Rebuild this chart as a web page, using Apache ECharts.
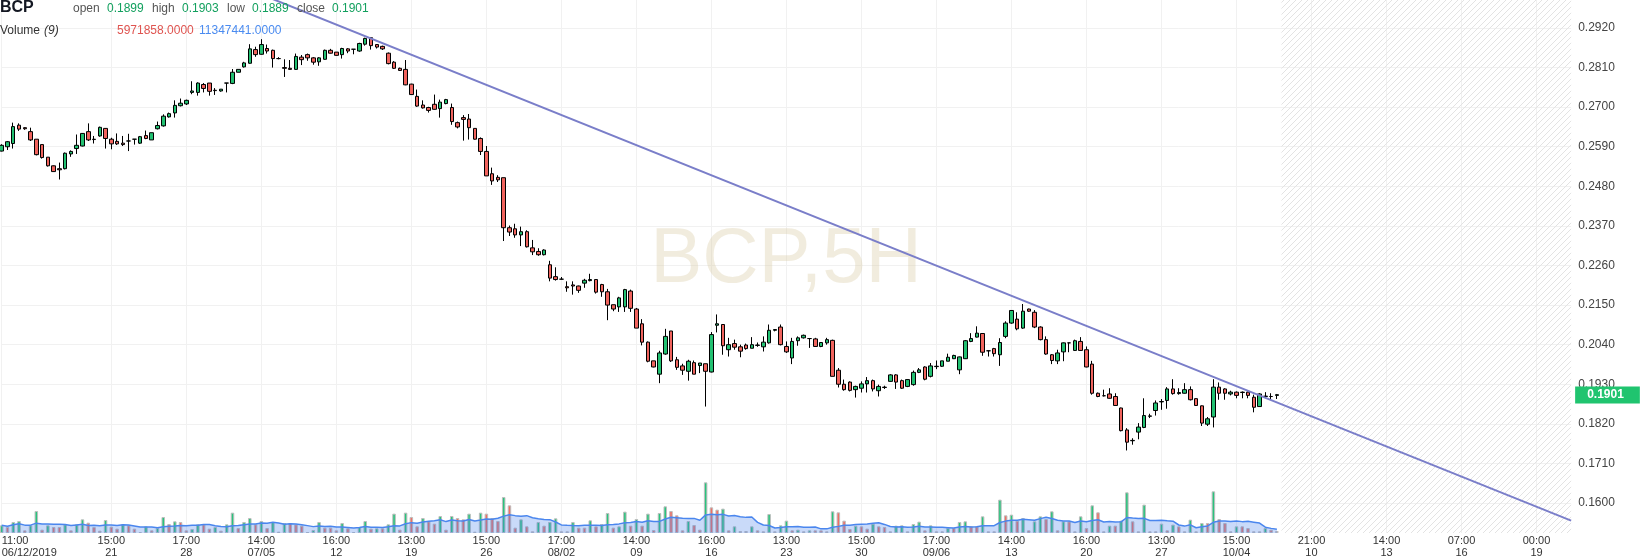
<!DOCTYPE html>
<html><head><meta charset="utf-8">
<script src="https://cdn.jsdelivr.net/npm/echarts@6/dist/echarts.min.js"></script>
<style>html,body{margin:0;padding:0;background:#fff}#c{width:1640px;height:560px}</style>
</head><body><div id="c"></div>
<script>
// ---- data (BCP, 5H bars) ----
const opens = [
0.2578,0.2590,0.2599,0.2650,0.2643,0.2632,0.2611,0.2596,0.2561,0.2537,
0.2529,0.2529,0.2570,0.2585,0.2592,0.2632,0.2611,0.2620,0.2641,0.2611,
0.2605,0.2600,0.2606,0.2611,0.2600,0.2621,0.2609,0.2640,0.2648,0.2673,
0.2684,0.2704,0.2709,0.2741,0.2741,0.2763,0.2767,0.2747,0.2745,0.2767,
0.2766,0.2797,0.2812,0.2822,0.2860,0.2847,0.2863,0.2858,0.2835,0.2810,
0.2808,0.2805,0.2839,0.2846,0.2837,0.2826,0.2833,0.2858,0.2853,0.2846,
0.2862,0.2861,0.2856,0.2875,0.2893,0.2874,0.2869,0.2850,0.2825,0.2808,
0.2805,0.2764,0.2730,0.2706,0.2699,0.2708,0.2696,0.2710,0.2699,0.2657,
0.2671,0.2667,0.2641,0.2613,0.2577,0.2515,0.2505,0.2504,0.2365,0.2362,
0.2345,0.2354,0.2309,0.2299,0.2290,0.2262,0.2229,0.2222,0.2201,0.2206,
0.2203,0.2211,0.2218,0.2221,0.2207,0.2187,0.2151,0.2145,0.2145,0.2189,
0.2139,0.2098,0.2047,0.1995,0.1958,0.2014,0.2078,0.1998,0.1981,0.1966,
0.1990,0.1982,0.1987,0.1964,0.2094,0.2096,0.2026,0.2043,0.2034,0.2039,
0.2030,0.2038,0.2034,0.2045,0.2080,0.2089,0.2035,0.2003,0.2051,0.2059,
0.2057,0.2056,0.2035,0.2045,0.2052,0.1969,0.1930,0.1936,0.1915,0.1919,
0.1931,0.1940,0.1912,0.1921,0.1938,0.1956,0.1940,0.1924,0.1929,0.1963,
0.1978,0.1952,0.1979,0.1980,0.1994,0.2001,0.1970,0.2001,0.2049,0.2061,
0.2071,0.2023,0.2029,0.2012,0.2063,0.2100,0.2111,0.2086,0.2139,0.2130,
0.2089,0.2054,0.2012,0.1995,0.2020,0.2045,0.2024,0.2049,0.2026,0.1986,
0.1905,0.1898,0.1903,0.1896,0.1864,0.1803,0.1773,0.1797,0.1810,0.1841,
0.1857,0.1881,0.1885,0.1917,0.1904,0.1905,0.1915,0.1890,0.1870,0.1819,
0.1839,0.1922,0.1917,0.1903,0.1908,0.1907,0.1908,0.1894,0.1868,0.1896,
0.1896,0.1899];
const highs = [
0.2597,0.2606,0.2657,0.2655,0.2644,0.2643,0.2611,0.2596,0.2561,0.2538,
0.2546,0.2574,0.2580,0.2624,0.2628,0.2655,0.2620,0.2646,0.2642,0.2615,
0.2627,0.2620,0.2626,0.2611,0.2620,0.2635,0.2629,0.2660,0.2680,0.2685,
0.2719,0.2724,0.2721,0.2772,0.2769,0.2767,0.2767,0.2753,0.2750,0.2767,
0.2806,0.2805,0.2826,0.2875,0.2868,0.2889,0.2874,0.2860,0.2839,0.2833,
0.2831,0.2849,0.2845,0.2849,0.2839,0.2839,0.2860,0.2862,0.2853,0.2865,
0.2864,0.2861,0.2879,0.2893,0.2895,0.2875,0.2871,0.2852,0.2828,0.2810,
0.2831,0.2765,0.2749,0.2719,0.2701,0.2735,0.2721,0.2723,0.2710,0.2660,
0.2678,0.2681,0.2641,0.2616,0.2592,0.2532,0.2511,0.2504,0.2371,0.2376,
0.2368,0.2358,0.2331,0.2308,0.2305,0.2273,0.2255,0.2228,0.2216,0.2216,
0.2204,0.2223,0.2237,0.2221,0.2209,0.2195,0.2151,0.2173,0.2195,0.2193,
0.2142,0.2111,0.2049,0.1995,0.2023,0.2084,0.2078,0.2006,0.1987,0.1998,
0.1996,0.1989,0.1987,0.2075,0.2124,0.2096,0.2059,0.2054,0.2040,0.2043,
0.2061,0.2046,0.2063,0.2096,0.2083,0.2096,0.2049,0.2059,0.2063,0.2068,
0.2057,0.2059,0.2046,0.2059,0.2054,0.1975,0.1943,0.1938,0.1926,0.1938,
0.1950,0.1943,0.1929,0.1926,0.1958,0.1958,0.1943,0.1944,0.1968,0.1975,
0.1980,0.1989,0.1996,0.1995,0.2015,0.2012,0.2007,0.2053,0.2072,0.2091,
0.2072,0.2023,0.2031,0.2058,0.2105,0.2136,0.2130,0.2153,0.2140,0.2136,
0.2091,0.2063,0.2014,0.2026,0.2046,0.2045,0.2054,0.2061,0.2035,0.1995,
0.1907,0.1915,0.1919,0.1905,0.1865,0.1808,0.1780,0.1822,0.1891,0.1848,
0.1885,0.1889,0.1922,0.1944,0.1919,0.1933,0.1924,0.1891,0.1871,0.1839,
0.1944,0.1935,0.1919,0.1912,0.1910,0.1910,0.1910,0.1901,0.1905,0.1908,
0.1905,0.1903];
const lows = [
0.2577,0.2581,0.2585,0.2634,0.2637,0.2606,0.2566,0.2557,0.2535,0.2520,
0.2499,0.2527,0.2562,0.2570,0.2591,0.2606,0.2599,0.2618,0.2585,0.2583,
0.2595,0.2592,0.2578,0.2596,0.2598,0.2611,0.2609,0.2638,0.2646,0.2671,
0.2671,0.2702,0.2706,0.2736,0.2732,0.2741,0.2732,0.2734,0.2743,0.2741,
0.2764,0.2797,0.2810,0.2821,0.2840,0.2846,0.2849,0.2810,0.2833,0.2784,
0.2804,0.2804,0.2817,0.2829,0.2818,0.2815,0.2832,0.2849,0.2843,0.2835,
0.2850,0.2847,0.2854,0.2871,0.2860,0.2863,0.2859,0.2819,0.2806,0.2801,
0.2761,0.2734,0.2701,0.2696,0.2685,0.2693,0.2671,0.2708,0.2651,0.2641,
0.2607,0.2610,0.2610,0.2567,0.2509,0.2484,0.2492,0.2328,0.2342,0.2337,
0.2314,0.2310,0.2289,0.2287,0.2288,0.2216,0.2218,0.2221,0.2187,0.2179,
0.2184,0.2198,0.2216,0.2182,0.2173,0.2108,0.2133,0.2131,0.2131,0.2131,
0.2086,0.2038,0.1991,0.1977,0.1933,0.2012,0.1992,0.1970,0.1956,0.1940,
0.1958,0.1961,0.1868,0.1963,0.2074,0.2012,0.2007,0.2026,0.2005,0.2026,
0.2030,0.2034,0.2021,0.2043,0.2077,0.2038,0.2017,0.1986,0.2037,0.2057,
0.2031,0.2034,0.2033,0.2040,0.1952,0.1921,0.1912,0.1910,0.1893,0.1907,
0.1907,0.1910,0.1896,0.1917,0.1937,0.1917,0.1917,0.1922,0.1926,0.1961,
0.1941,0.1949,0.1972,0.1978,0.1994,0.2000,0.1958,0.2000,0.2047,0.2060,
0.2009,0.2007,0.2007,0.1981,0.2058,0.2098,0.2080,0.2084,0.2131,0.2086,
0.2052,0.2012,0.1986,0.1986,0.1994,0.2019,0.2023,0.2023,0.1977,0.1901,
0.1894,0.1896,0.1890,0.1870,0.1799,0.1746,0.1762,0.1777,0.1808,0.1836,
0.1843,0.1859,0.1862,0.1901,0.1901,0.1904,0.1885,0.1870,0.1814,0.1814,
0.1810,0.1887,0.1887,0.1899,0.1891,0.1891,0.1891,0.1852,0.1868,0.1891,
0.1887,0.1889];
const closes = [
0.2594,0.2604,0.2646,0.2639,0.2640,0.2609,0.2568,0.2560,0.2537,0.2521,
0.2526,0.2572,0.2577,0.2594,0.2627,0.2609,0.2610,0.2644,0.2613,0.2598,
0.2598,0.2596,0.2606,0.2611,0.2618,0.2613,0.2629,0.2649,0.2675,0.2682,
0.2705,0.2711,0.2719,0.2745,0.2767,0.2752,0.2744,0.2746,0.2750,0.2767,
0.2797,0.2805,0.2823,0.2862,0.2846,0.2874,0.2856,0.2835,0.2835,0.2808,
0.2805,0.2841,0.2832,0.2837,0.2825,0.2837,0.2858,0.2850,0.2844,0.2863,
0.2856,0.2861,0.2877,0.2891,0.2871,0.2867,0.2862,0.2821,0.2808,0.2802,
0.2762,0.2735,0.2703,0.2698,0.2691,0.2694,0.2714,0.2721,0.2660,0.2645,
0.2666,0.2643,0.2611,0.2577,0.2509,0.2495,0.2498,0.2365,0.2353,0.2345,
0.2354,0.2312,0.2298,0.2290,0.2303,0.2225,0.2221,0.2222,0.2198,0.2203,
0.2191,0.2219,0.2221,0.2186,0.2187,0.2150,0.2139,0.2170,0.2193,0.2141,
0.2086,0.2047,0.1994,0.1978,0.2017,0.2063,0.1995,0.1977,0.1969,0.1994,
0.1958,0.1989,0.1966,0.2068,0.2098,0.2037,0.2040,0.2033,0.2022,0.2029,
0.2040,0.2039,0.2047,0.2080,0.2082,0.2040,0.2020,0.2049,0.2059,0.2066,
0.2057,0.2035,0.2046,0.2054,0.1952,0.1930,0.1915,0.1913,0.1924,0.1931,
0.1940,0.1917,0.1924,0.1922,0.1956,0.1936,0.1919,0.1943,0.1963,0.1970,
0.1944,0.1981,0.1980,0.1995,0.2005,0.2010,0.2006,0.2051,0.2057,0.2072,
0.2019,0.2023,0.2015,0.2046,0.2100,0.2135,0.2084,0.2133,0.2133,0.2089,
0.2054,0.2014,0.1996,0.2017,0.2045,0.2045,0.2051,0.2024,0.1978,0.1905,
0.1896,0.1898,0.1891,0.1871,0.1801,0.1769,0.1774,0.1811,0.1843,0.1842,
0.1878,0.1882,0.1917,0.1904,0.1907,0.1915,0.1887,0.1871,0.1822,0.1834,
0.1922,0.1905,0.1905,0.1908,0.1899,0.1908,0.1899,0.1866,0.1903,0.1897,
0.1896,0.1901];
// volume per bar, millions of shares
const volumeM = [
23,18,33,36,8,23,66,10,23,18,
18,26,8,26,41,31,18,7,39,19,
13,26,23,13,3,20,8,15,48,27,
35,33,8,12,26,26,13,18,7,26,
61,15,33,45,26,36,15,33,4,30,
30,26,22,3,9,33,16,16,8,30,
14,3,18,36,13,14,14,26,58,10,
61,48,20,45,35,28,51,10,51,45,
41,58,4,61,58,45,36,108,83,16,
41,20,5,33,22,33,44,5,5,33,
16,16,38,20,27,60,16,20,64,22,
42,22,58,9,60,80,66,53,8,36,
24,10,152,77,70,73,8,20,6,6,
20,8,5,57,5,23,37,8,10,5,
8,8,8,5,65,62,37,12,22,20,
13,28,20,18,5,22,23,5,27,34,
8,23,5,5,15,15,33,35,20,20,
50,5,5,100,53,55,37,45,8,35,
50,42,65,8,35,35,5,50,15,83,
62,5,22,22,37,122,35,5,85,5,
5,28,8,25,20,5,40,5,30,30,
125,42,30,5,20,20,15,5,5,15,
10,5.971858];
const maPeriod = 9;                       // "Volume (9)"
const slotCount = 273;                    // bars + empty future slots
const tickIndex = [0,19,32,45,58,71,84,97,110,123,136,149,162,175,188,201,214,227,240,253,266];
const tickTime  = ['11:00','15:00','17:00','14:00','16:00','13:00','15:00','17:00','14:00','16:00','13:00','15:00','17:00','14:00','16:00','13:00','15:00','21:00','14:00','07:00','00:00'];
const tickDate  = ['06/12/2019','21','28','07/05','12','19','26','08/02','09','16','23','30','09/06','13','20','27','10/04','10','13','16','19'];
const yTicks = [0.160,0.171,0.182,0.193,0.204,0.215,0.226,0.237,0.248,0.259,0.270,0.281,0.292];
const trendline = [[0, 0.3303], [272, 0.1551]];
const futureStart = 221.8;
const lastClose = 0.1901;

// ---- build ----
const UP = '#22c172', DN = '#f0635d', VUP = '#29c47d', VDN = '#f06e64';
const FONT = 'Arial, "Liberation Sans", sans-serif';
const categories = Array.from({length: slotCount}, (_, i) => String(i));
const tickMap = {};
tickIndex.forEach((t, k) => { tickMap[t] = tickTime[k] + '\n' + tickDate[k]; });
const candleData = opens.map((o, i) => [o, closes[i], lows[i], highs[i]]);
const volData = volumeM.map((v, i) => ({
  value: v,
  itemStyle: { color: (i === 0 || v > volumeM[i - 1]) ? VUP : VDN }
}));
const volMA = volumeM.map((v, i) => {
  const s = Math.max(0, i - maPeriod + 1);
  let sum = 0;
  for (let j = s; j <= i; j++) sum += volumeM[j];
  return +(sum / (i - s + 1)).toFixed(3);
});

// hatch pattern for the future zone
const pc = document.createElement('canvas');
pc.width = 6; pc.height = 6;
const g = pc.getContext('2d');
g.strokeStyle = '#e3e3e3'; g.lineWidth = 1;
g.beginPath();
g.moveTo(0, 6); g.lineTo(6, 0);
g.moveTo(-1, 1); g.lineTo(1, -1);
g.moveTo(5, 7); g.lineTo(7, 5);
g.stroke();

const chart = echarts.init(document.getElementById('c'), null, {renderer: 'canvas'});
const hdr = (x, y, text, fill, extra) => ({
  type: 'text', x: x, y: y, z: 10,
  style: Object.assign({ text: text, fill: fill, fontSize: 12, fontFamily: FONT, verticalAlign: 'middle', align: 'left' }, extra || {})
});
chart.setOption({
  animation: false,
  backgroundColor: '#ffffff',
  grid: { left: 1.7, right: 68.86, top: 0, bottom: 27, containLabel: false, outerBoundsMode: 'none' },
  xAxis: [
    { type: 'category', data: categories, boundaryGap: false, gridIndex: 0,
      axisLine: { show: false }, axisTick: { show: false },
      axisLabel: { interval: (i) => tickMap[i] !== undefined, formatter: (v, i) => tickMap[i] || '',
        fontSize: 11, lineHeight: 12, color: '#333', margin: 2, fontFamily: FONT, alignMinLabel: 'left' },
      splitLine: { show: true, interval: (i) => tickMap[i] !== undefined, lineStyle: { color: '#f1f1f1', width: 1 } } },
    { type: 'value', min: 0, max: slotCount - 1, show: false, gridIndex: 0, splitLine: { show: false } }
  ],
  yAxis: [
    { type: 'value', position: 'right', min: 0.151663, max: 0.299781, gridIndex: 0,
      axisLine: { show: false }, axisTick: { show: false, customValues: yTicks },
      axisLabel: { customValues: yTicks, formatter: (v) => v.toFixed(4), color: '#444', fontSize: 12, margin: 7, fontFamily: FONT },
      splitLine: { show: true, lineStyle: { color: '#f1f1f1', width: 1 } } },
    { type: 'value', min: 0, max: 1599, show: false, gridIndex: 0, splitLine: { show: false } }
  ],
  graphic: [
    { type: 'text', x: 786, y: 260, z: 1, silent: true,
      style: { text: 'BCP,5H', fontSize: 78, fontFamily: FONT, fill: 'rgba(218,206,168,0.38)', align: 'center', verticalAlign: 'middle' } },
    hdr(0, 8, 'BCP', '#131722', { fontSize: 16, fontWeight: 'bold' }),
    hdr(73, 9, 'open', '#555'),
    hdr(107, 9, opens[opens.length - 1].toFixed(4), '#12a05e'),
    hdr(152, 9, 'high', '#555'),
    hdr(182, 9, highs[highs.length - 1].toFixed(4), '#12a05e'),
    hdr(227, 9, 'low', '#555'),
    hdr(252, 9, lows[lows.length - 1].toFixed(4), '#12a05e'),
    hdr(297, 9, 'close', '#555'),
    hdr(332, 9, closes[closes.length - 1].toFixed(4), '#12a05e'),
    hdr(0, 31, 'Volume', '#333'),
    hdr(44, 31, '(9)', '#333', { fontStyle: 'italic' }),
    hdr(117, 31, '5971858.0000', '#df5450'),
    hdr(199, 31, '11347441.0000', '#4a8bf0')
  ],
  series: [
    { type: 'line', name: 'future', xAxisIndex: 1, yAxisIndex: 0, data: [], z: 0, silent: true,
      markArea: { silent: true, itemStyle: { color: { image: pc, repeat: 'repeat' } },
        data: [[{ xAxis: futureStart }, { xAxis: slotCount - 1 }]] } },
    { type: 'bar', name: 'Volume', xAxisIndex: 0, yAxisIndex: 1, data: volData, barWidth: 3.5, z: 2,
      itemStyle: { borderColor: '#bdbdbd', borderWidth: 1 } },
    { type: 'line', name: 'Volume MA', xAxisIndex: 0, yAxisIndex: 1, data: volMA, symbol: 'none', z: 3,
      lineStyle: { color: '#4a86ee', width: 1.5 }, areaStyle: { color: 'rgba(72,128,236,0.42)' } },
    { type: 'candlestick', name: 'BCP', xAxisIndex: 0, yAxisIndex: 0, data: candleData, barWidth: 4, z: 5,
      itemStyle: { color: UP, color0: DN, borderColor: '#000', borderColor0: '#000', borderWidth: 1 },
      markLine: { silent: true, symbol: ['none', 'none'], lineStyle: { color: 'rgba(0,0,0,0)', width: 0 },
        label: { show: true, position: 'end', distance: 4, formatter: () => lastClose.toFixed(4),
          backgroundColor: '#20c46f', color: '#fff', fontWeight: 'bold', fontSize: 12, fontFamily: FONT, padding: [3, 16, 2, 12] },
        data: [{ yAxis: lastClose }] } },
    { type: 'line', name: 'trend', xAxisIndex: 1, yAxisIndex: 0, data: trendline, symbol: 'none', z: 6, clip: true,
      lineStyle: { color: '#7a7ec9', width: 2 } }
  ]
});
</script>
</body></html>
